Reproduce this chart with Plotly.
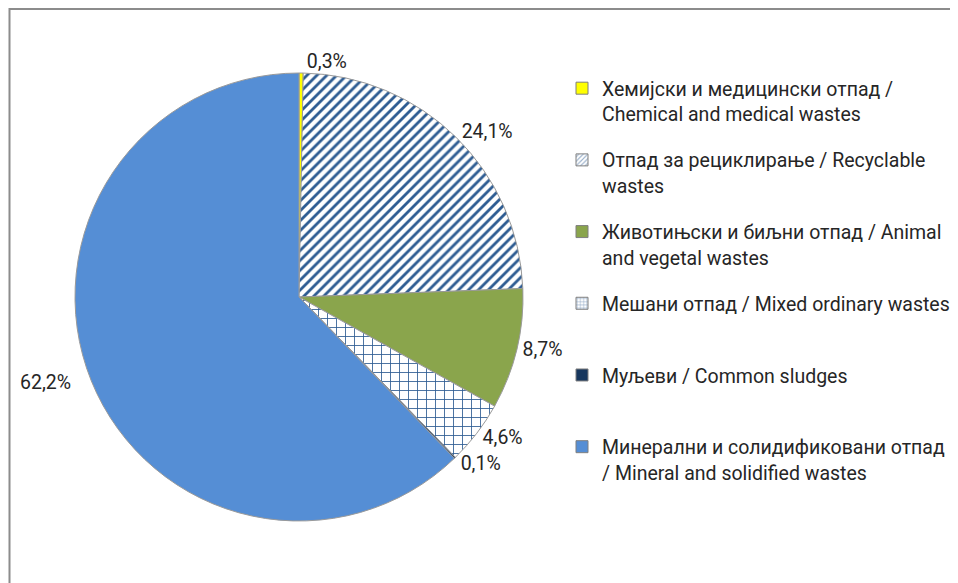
import plotly.graph_objects as go

# ---- data ----
labels_sr = ["Хемијски и медицински отпад /", "Отпад за рециклирање / Recyclable",
             "Животињски и биљни отпад / Animal", "Мешани отпад / Mixed ordinary wastes",
             "Муљеви / Common sludges", "Минерални и солидификовани отпад"]
labels_en = ["Chemical and medical wastes", "wastes", "and vegetal wastes", "",
             "", "/ Mineral and solidified wastes"]
shares = [0.3, 24.1, 8.7, 4.6, 0.1, 62.2]

# ---- styles ----
W, H = 950, 575           # page body has an 8px margin in the 958x583 window
fills = ["#FFFF00", "#FFFFFF", "#8AA54C", "#FFFFFF", "#17375E", "#558ED5"]
shapes_pat = ["", "/", "", "+", "", ""]
pat_fg = "#2E5C92"
FONT = "Roboto"
FS = 19.5
PAD = "\u00a0\u00a0\u00a0"

def legend_text(a, b):
    # keep every legend entry two lines tall, as in the original layout
    return a + "<br>" + (b if b else "\u00a0")

CX, CY, R = 291, 289, 224   # pie centre (px from left/top of figure) and radius

fig = go.Figure()

fig.add_trace(go.Pie(
    values=shares,
    labels=labels_sr,
    sort=False, direction="clockwise", rotation=0,
    marker=dict(colors=fills, line=dict(color="#9A9A9A", width=1),
                pattern=dict(shape=shapes_pat, fgcolor=pat_fg, bgcolor="#FFFFFF",
                             size=[7, 7, 7, 9, 7, 7],
                             solidity=[0.4, 0.4, 0.4, 0.18, 0.4, 0.4])),
    texttemplate="%{value:.1f}%" + PAD,
    textposition="outside",
    textfont=dict(family=FONT, size=FS, color="#262626"),
    showlegend=False,
    hoverinfo="skip",
    domain=dict(x=[(CX - R) / W, (CX + R) / W],
                y=[(H - CY - R) / H, (H - CY + R) / H]),
))

# legend entries (invisible bars, one group each so the gap can be set)
for i, (a, b) in enumerate(zip(labels_sr, labels_en)):
    fig.add_trace(go.Bar(
        x=[None], y=[None], name=legend_text(a, b),
        legendgroup=f"g{i}",
        marker=dict(color=fills[i], line=dict(color="#7F7F7F", width=1),
                    pattern=dict(shape=shapes_pat[i], fgcolor=pat_fg, bgcolor="#FFFFFF",
                                 size=4, solidity=0.35)),
        showlegend=True, hoverinfo="skip",
    ))

fig.update_layout(
    width=W, height=H,
    margin=dict(l=0, r=0, t=0, b=0, autoexpand=False),
    paper_bgcolor="white", plot_bgcolor="white",
    separators=",.",
    font=dict(family=FONT, size=FS, color="#262626"),
    xaxis=dict(visible=False, domain=[0, 0.01]),
    yaxis=dict(visible=False, domain=[0, 0.01]),
    legend=dict(x=554 / W, y=1 - 61 / H, xanchor="left", yanchor="top",
                valign="top", tracegroupgap=18, itemwidth=30,
                font=dict(family=FONT, size=FS, color="#262626"),
                bgcolor="rgba(0,0,0,0)"),
    shapes=[dict(type="rect", xref="paper", yref="paper",
                 x0=1.5 / W, x1=1.05, y0=-0.05, y1=1 - 1 / H,
                 line=dict(color="#8C8C8C", width=2), layer="below")],
)

fig.write_html("out.html")
